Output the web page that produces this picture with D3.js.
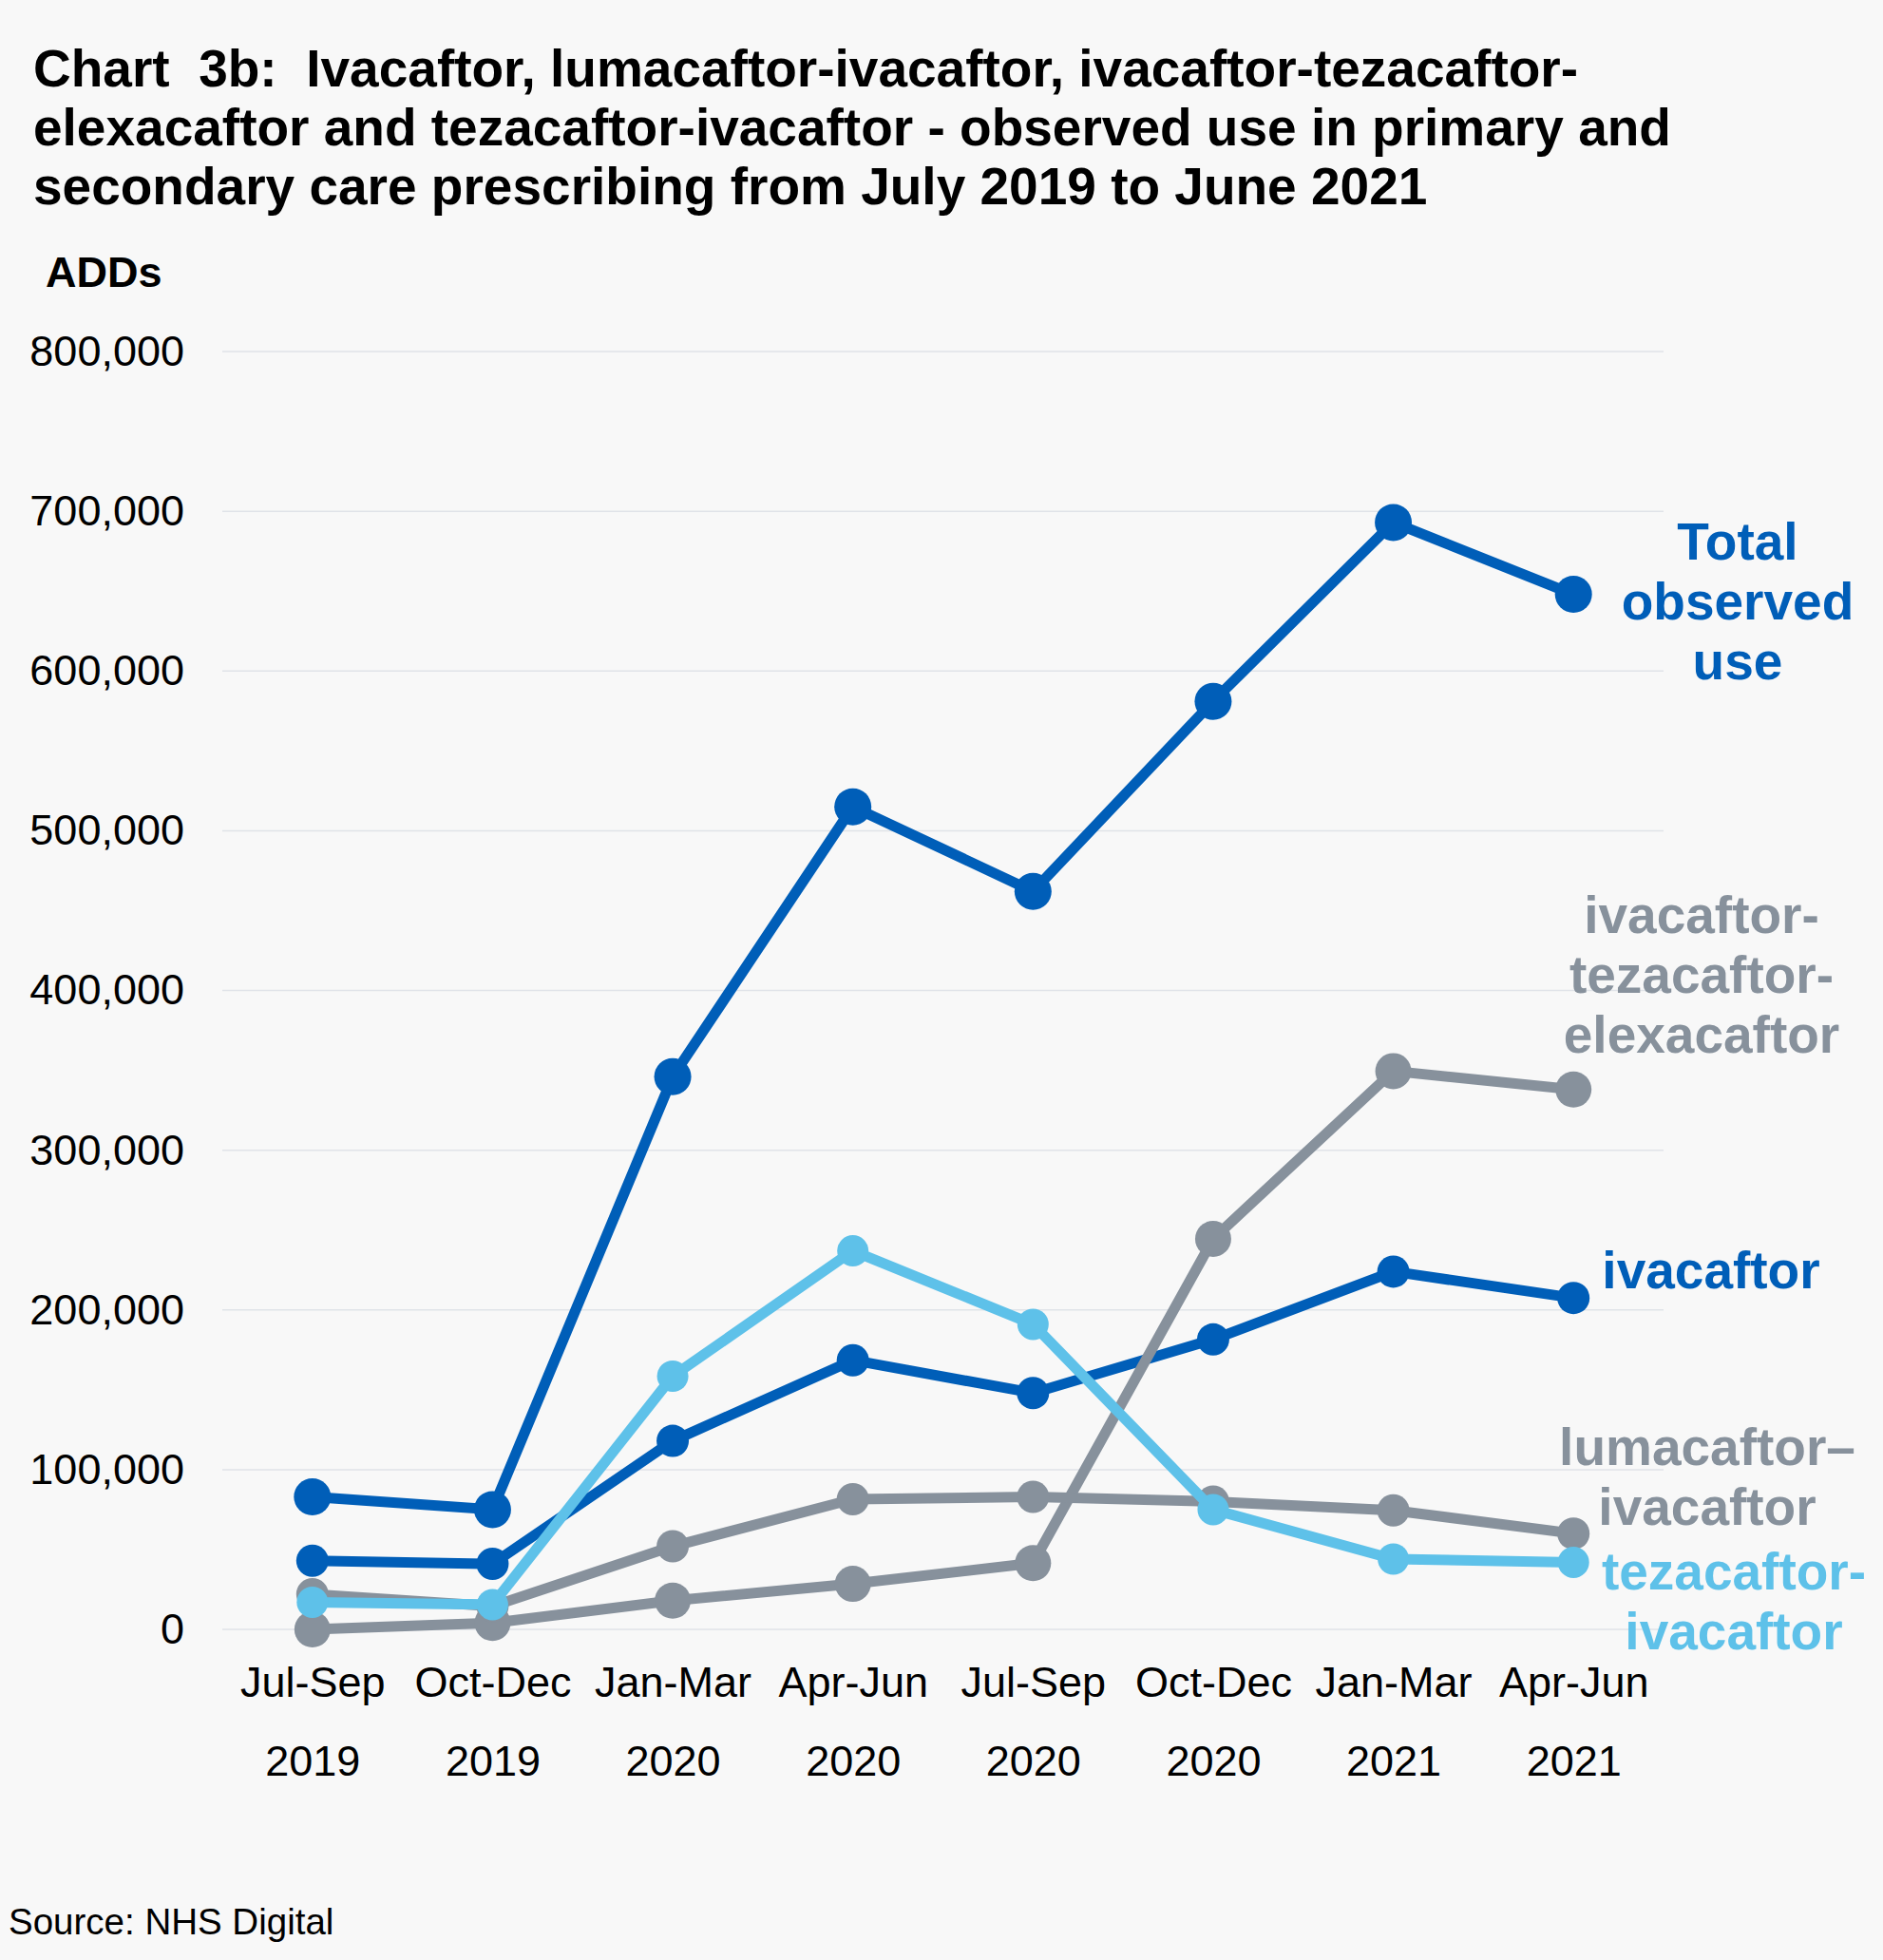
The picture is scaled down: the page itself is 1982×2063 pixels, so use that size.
<!DOCTYPE html>
<meta charset="utf-8">
<script type="text/javascript" src="https://cdn.jsdelivr.net/npm/d3@7"></script>
<style>

body {
  margin: 0;
  background: #f8f8f8;
}

text {
  font-family: "Liberation Sans", Arial, sans-serif;
  fill: #000;
}

.title {
  font-size: 55px;
  font-weight: bold;
  white-space: pre;
}

.grid line {
  stroke: #e0e3e8;
  stroke-width: 1.5px;
}

path.line {
  fill: none;
  stroke-width: 11px;
  stroke-linejoin: round;
}

.lab {
  font-size: 55px;
  font-weight: bold;
}

</style>
<html><head><title></title></head><body>
<script>

var quarters = ["Jul-Sep", "Oct-Dec", "Jan-Mar", "Apr-Jun", "Jul-Sep", "Oct-Dec", "Jan-Mar", "Apr-Jun"];
var years = ["2019", "2019", "2020", "2020", "2020", "2020", "2021", "2021"];

var total = [83000, 75000, 346000, 515000, 462000, 581000, 693000, 648000];
var ivacaftor = [43000, 41000, 118000, 168500, 148000, 181500, 224000, 207500];
var tezIva = [17000, 15500, 158500, 237000, 191000, 75000, 44000, 42000];
var lumaIva = [22000, 14500, 52000, 81500, 83000, 80000, 74500, 60000];
var ivaTezElexa = [0, 4000, 18000, 28500, 41500, 244500, 349500, 338000];

var yTicks = [0, 100000, 200000, 300000, 400000, 500000, 600000, 700000, 800000];

var titleLines = [
  "Chart  3b:  Ivacaftor, lumacaftor-ivacaftor, ivacaftor-tezacaftor-",
  "elexacaftor and tezacaftor-ivacaftor - observed use in primary and",
  "secondary care prescribing from July 2019 to June 2021"
];

var blue = "#005eb8",
    lightBlue = "#5ec1e9",
    grey = "#87919c";

var width = 1982,
    height = 2063;

var svg = d3.select("body").append("svg")
    .attr("width", width)
    .attr("height", height);

svg.append("rect")
    .attr("width", width)
    .attr("height", height)
    .attr("fill", "#f8f8f8");

// title
svg.append("g").selectAll("text")
    .data(titleLines)
    .enter().append("text")
    .attr("class", "title")
    .attr("x", 35)
    .attr("y", function(d, i) { return 91 + i * 62; })
    .text(function(d) { return d; });

svg.append("text")
    .attr("x", 48)
    .attr("y", 302)
    .style("font-size", "45px")
    .style("font-weight", "bold")
    .text("ADDs");

var x = d3.scalePoint()
    .domain(d3.range(quarters.length))
    .range([234, 1751])
    .padding(0.5);

var y = d3.scaleLinear()
    .domain([0, 800000])
    .range([1715, 370]);

// gridlines
svg.append("g")
    .attr("class", "grid")
    .selectAll("line")
    .data(yTicks)
    .enter().append("line")
    .attr("x1", 234)
    .attr("x2", 1751)
    .attr("y1", function(d) { return y(d); })
    .attr("y2", function(d) { return y(d); });

// y axis labels
var yAxis = svg.append("g")
    .attr("transform", "translate(194,0)")
    .call(d3.axisLeft(y).tickValues(yTicks).tickSize(0).tickPadding(0)
      .tickFormat(d3.format(",")));
yAxis.select(".domain").remove();
yAxis.selectAll("text")
    .style("font-size", "45px")
    .style("font-family", "'Liberation Sans', Arial, sans-serif")
    .attr("fill", "#000");

// x axis labels, two rows
var xAxis = svg.append("g")
    .attr("transform", "translate(0,1754)")
    .call(d3.axisBottom(x).tickSize(0).tickPadding(0)
      .tickFormat(function(i) { return quarters[i]; }));
xAxis.select(".domain").remove();
xAxis.selectAll("text")
    .style("font-size", "45px")
    .style("font-family", "'Liberation Sans', Arial, sans-serif")
    .attr("fill", "#000");

var xAxis2 = svg.append("g")
    .attr("transform", "translate(0,1837)")
    .call(d3.axisBottom(x).tickSize(0).tickPadding(0)
      .tickFormat(function(i) { return years[i]; }));
xAxis2.select(".domain").remove();
xAxis2.selectAll("text")
    .style("font-size", "45px")
    .style("font-family", "'Liberation Sans', Arial, sans-serif")
    .attr("fill", "#000");

var series = [
  {name: "ivacaftor", values: ivacaftor, color: blue, r: 17},
  {name: "ivaTezElexa", values: ivaTezElexa, color: grey, r: 19},
  {name: "lumaIva", values: lumaIva, color: grey, r: 17},
  {name: "tezIva", values: tezIva, color: lightBlue, r: 16.5},
  {name: "total", values: total, color: blue, r: 19.5}
];

var line = d3.line()
    .x(function(d, i) { return x(i); })
    .y(function(d) { return y(d); });

var g = svg.append("g")
    .selectAll("g")
    .data(series)
    .enter().append("g");

g.append("path")
    .attr("class", "line")
    .attr("d", function(d) { return line(d.values); })
    .style("stroke", function(d) { return d.color; });

g.selectAll("circle")
    .data(function(d) { return d.values.map(function(v) { return {v: v, s: d}; }); })
    .enter().append("circle")
    .attr("cx", function(d, i) { return x(i); })
    .attr("cy", function(d) { return y(d.v); })
    .attr("r", function(d) { return d.s.r; })
    .style("fill", function(d) { return d.s.color; });

// series labels on the right
var labels = [
  {lines: ["Total", "observed", "use"], x: 1829, y: 589, color: blue},
  {lines: ["ivacaftor-", "tezacaftor-", "elexacaftor"], x: 1791, y: 982, color: grey},
  {lines: ["ivacaftor"], x: 1801, y: 1356, color: blue},
  {lines: ["lumacaftor\u2013", "ivacaftor"], x: 1797, y: 1542, color: grey},
  {lines: ["tezacaftor-", "ivacaftor"], x: 1825, y: 1673, color: lightBlue}
];

labels.forEach(function(l) {
  svg.append("text")
      .attr("class", "lab")
      .attr("text-anchor", "middle")
      .style("fill", l.color)
    .selectAll("tspan")
      .data(l.lines)
      .enter().append("tspan")
      .attr("x", l.x)
      .attr("y", function(d, i) { return l.y + i * 63; })
      .text(function(d) { return d; });
});

svg.append("text")
    .attr("x", 9)
    .attr("y", 2036)
    .style("font-size", "38.5px")
    .text("Source: NHS Digital");

</script>
</body>
</html>
